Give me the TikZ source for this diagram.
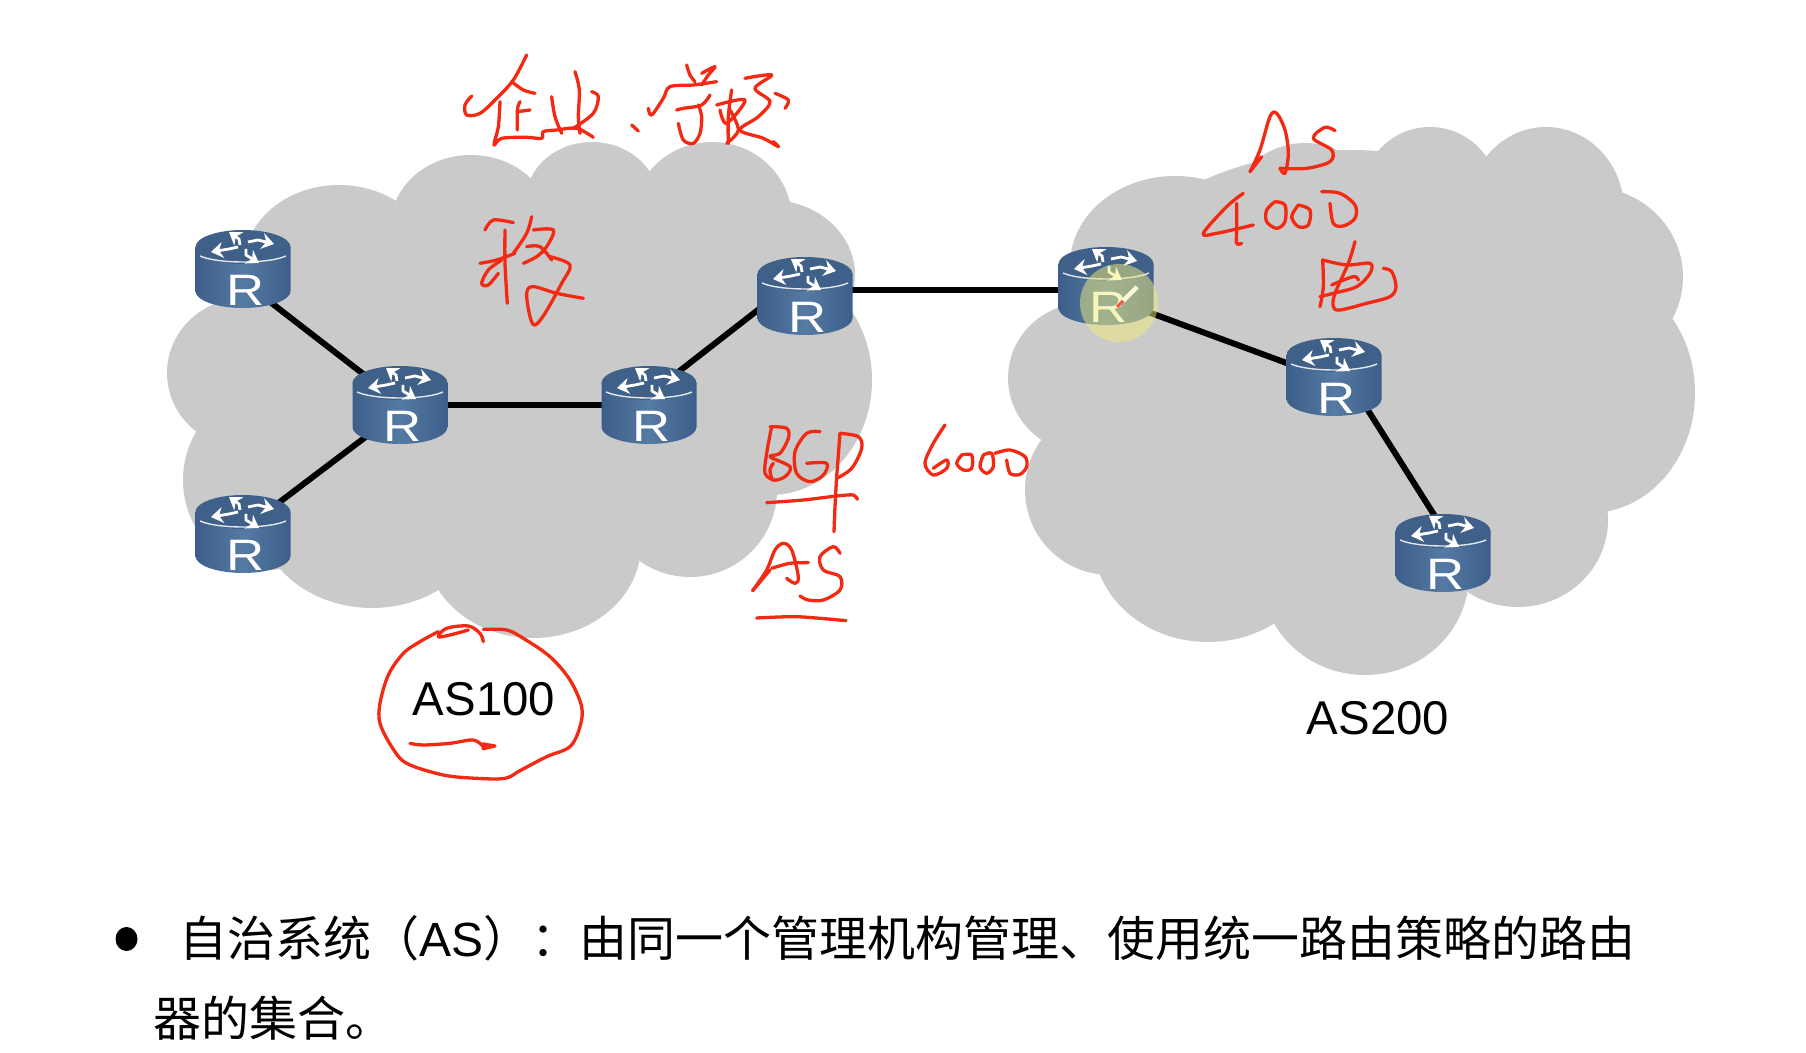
\documentclass[tikz,border=0pt]{standalone}
\usepackage{fontspec}
\usetikzlibrary{arrows.meta}
\setmainfont{Liberation Sans}
\newfontfamily\cjkfont{Noto Sans CJK SC}
\definecolor{cloudgray}{HTML}{C9CAC9}
\definecolor{routerdark}{HTML}{3D5E8A}
\definecolor{routerlight}{HTML}{557AA3}
\definecolor{routertop}{HTML}{3F6088}
\definecolor{inkred}{HTML}{F22A14}
\definecolor{hilite}{HTML}{F2EC7C}
\tikzset{
  cloudlobe/.style={fill=cloudgray,draw=none},
  link/.style={draw=black,line width=3pt},
  ink/.style={draw=inkred,line width=1.65pt,line cap=round,line join=round},
  aslabel/.style={font=\fontsize{23.7}{28}\selectfont,text=black,inner sep=0pt},
  bodytext/.style={font=\fontsize{24}{28}\selectfont\cjkfont,text=black,inner sep=0pt,anchor=base west},
  routerarrow/.style={draw=white,line width=1.4pt,-{Stealth[length=6pt,width=8pt]}},
  routerpic/.pic={
    \path[left color=routerdark,right color=routerdark,middle color=routerlight]
      (-47.5,-22) -- (-47.5,22) .. controls (-47.5,31.4) and (-26.2,39) .. (0,39)
      .. controls (26.2,39) and (47.5,31.4) .. (47.5,22) -- (47.5,-22) -- cycle;
    \fill[routertop] (0,-22) ellipse [x radius=47.5,y radius=17];
    \draw[white!85!routertop,line width=0.7pt] (-43,-13) .. controls (-25,-5) and (25,-5) .. (43,-13);
    \draw[routerarrow] (-3,-24) -- (-4,-30) -- (-14,-37);
    \draw[routerarrow] (5,-27) -- (15,-29) -- (31,-25);
    \draw[routerarrow] (3,-20) -- (3,-14) -- (16,-6);
    \draw[routerarrow] (-5,-22) -- (-14,-20) -- (-32,-17);
    \node[text=white,inner sep=0pt,xscale=1.2,transform shape,font=\fontsize{22}{26}\selectfont] (-label) at (3,21) {R};
  }
}
\newcommand{\inkline}[1]{\draw[ink] plot[smooth,tension=.55] coordinates {#1};}
\begin{document}
\begin{tikzpicture}[x=0.5pt,y=-0.5pt]
\useasboundingbox (0,0) rectangle (1806,1053);
\fill[white] (0,0) rectangle (1806,1053);

% left cloud
\foreach \cx/\cy/\rx/\ry in {339/265/95/80,471/225/80/70,592/200/66/58,712/220/80/78,770/275/85/75,770/380/102/115,
  690/490/87/87,533/545/108/93,372/510/115/98,268/480/85/90,245/373/78/75,500/380/280/190}
  \fill[cloudlobe] (\cx,\cy) ellipse [x radius=\rx,y radius=\ry];
% right cloud
\foreach \cx/\cy/\rx/\ry in {1175/265/105/89,1305/215/75/72,1430/195/68/68,1546/210/78/83,1590/277/93/90,1590/393/105/120,
  1518/520/90/87,1365/575/104/100,1208/540/115/102,1110/490/85/85,1085/378/77/75,1350/370/290/220}
  \fill[cloudlobe] (\cx,\cy) ellipse [x radius=\rx,y radius=\ry];

% router positions
\coordinate (r1) at (243,269);
\coordinate (r2) at (400,405);
\coordinate (r3) at (649,405);
\coordinate (r4) at (805,296);
\coordinate (r5) at (243,534);
\coordinate (r6) at (1106,286);
\coordinate (r7) at (1334,377);
\coordinate (r8) at (1443,553);
% connector ends, hidden under the routers
\coordinate (r1a) at (243,281);
\coordinate (r2a) at (393,397);
\coordinate (r2b) at (400,411);
\coordinate (r5a) at (244,529);
\coordinate (r3a) at (650,394);
\coordinate (r4a) at (790,285);
\coordinate (r4b) at (805,290);
\coordinate (r6a) at (1106,290);
\coordinate (r6b) at (1110,298);
\coordinate (r7a) at (1330,379);
\coordinate (r7b) at (1345,374);
\coordinate (r8a) at (1450,540);

% connectors
\draw[link] (r1a) -- (r2a);
\draw[link] (r5a) -- (r2b);
\draw[link] (r2) -- (r3);
\draw[link] (r3a) -- (r4a);
\draw[link] (r4b) -- (r6a);
\draw[link] (r6b) -- (r7a);
\draw[link] (r7b) -- (r8a);

% routers
\pic (p1) at (r1) {routerpic};
\pic (p2) at (r2) {routerpic};
\pic (p3) at (r3) {routerpic};
\pic (p4) at (r4) {routerpic};
\pic (p5) at (r5) {routerpic};
\pic (p6) at (r6) {routerpic};
\pic (p7) at (r7) {routerpic};
\pic (p8) at (r8) {routerpic};

% pointer highlight and pen
\fill[hilite,opacity=.5] (1119,303) circle [radius=39];
\draw[white!70!hilite,line width=2.2pt] (1123,301) -- (1137,287);
\draw[inkred!80!white,line width=1.5pt] (1117,307) -- (1123,301);

% labels
\node[aslabel] (as100) at (484,699) {AS100};
\node[aslabel] (as200) at (1378,718) {AS200};

% bullet text
\fill[black] (126.5,939) ellipse [x radius=11,y radius=12];
\node[bodytext] (line1a) at (179,956) {自治系统（{\fontspec{Liberation Sans}AS}）：};
\node[bodytext] (line1b) at (579,956) {由同一个管理机构管理、使用统一路由策略的路由};
\node[bodytext] (line2) at (153,1036) {器的集合。};

% handwriting: top
\begin{scope}[shift={(430,30)},xscale=1/3,yscale=1/3]
\inkline{(125,198)(105,225)(110,255)(150,250)(200,205)(250,150)(290,75)}
\inkline{(245,155)(280,180)(315,190)}
\inkline{(262,300)(262,240)(270,215)}
\inkline{(262,245)(300,240)}
\inkline{(210,215)(205,290)(192,345)(215,325)(290,322)(335,325)(340,305)(380,300)(440,295)(490,322)}
\inkline{(365,200)(375,260)(395,310)}
\inkline{(435,125)(448,180)(445,260)(450,310)}
\inkline{(485,185)(505,200)(490,250)(430,295)}
\inkline{(605,285)(625,303)}
\inkline{(770,105)(780,135)(795,155)}
\inkline{(815,130)(855,110)(835,135)(815,165)}
\inkline{(655,235)(665,255)(700,205)(720,170)(790,165)(860,155)}
\inkline{(740,240)(760,235)(815,225)(840,195)}
\inkline{(745,280)(760,330)(790,340)(810,310)(815,260)(805,225)}
\inkline{(905,180)(895,260)(895,340)}
\inkline{(860,225)(945,210)(890,280)(870,240)}
\inkline{(900,240)(925,300)(890,340)}
\inkline{(945,145)(1025,135)(975,175)(1020,215)(985,260)(930,300)(1000,325)(1045,350)(1030,335)}
\inkline{(1035,190)(1075,210)(1065,235)}
% second word
\inkline{(165,600)(190,570)(250,578)}
\inkline{(225,600)(225,700)(232,820)}
\inkline{(150,700)(200,690)(255,670)}
\inkline{(215,690)(175,720)(155,760)(175,765)(205,730)}
\inkline{(305,560)(290,610)(250,670)}
\inkline{(310,600)(370,600)(350,650)(320,680)(280,700)}
\inkline{(290,650)(330,650)(365,690)}
\inkline{(360,680)(420,705)(395,760)(345,850)(315,885)(300,860)(290,790)(310,770)(380,790)(460,805)}
\end{scope}

% handwriting: BGP, AS, 6000
\begin{scope}[shift={(720,380)},xscale=1/3,yscale=1/3]
\inkline{(155,140)(140,220)(135,280)(160,300)}
\inkline{(150,140)(200,145)(205,175)(180,220)(150,230)(210,260)(195,290)(160,300)(150,270)(160,250)}
\inkline{(300,155)(260,160)(225,215)(230,280)(270,305)(310,285)(320,250)(260,250)}
\inkline{(360,160)(350,290)}
\inkline{(360,160)(415,170)(425,205)(395,265)(350,295)}
\inkline{(140,368)(250,360)(350,348)(400,345)(412,358)}
\inkline{(350,290)(345,380)(342,455)}
\inkline{(98,632)(140,570)(165,510)(190,490)(215,510)(235,590)(225,610)(200,595)}
\inkline{(98,632)(150,570)}
\inkline{(155,565)(210,550)(265,548)}
\inkline{(360,520)(340,500)(300,530)(310,570)(360,590)(360,630)(310,660)(265,660)(240,648)}
\inkline{(110,714)(220,710)(300,715)(378,722)}
\inkline{(675,135)(640,190)(615,250)(640,285)(680,265)(680,240)(640,265)}
\inkline{(725,225)(710,250)(730,270)(755,265)(755,225)(725,225)}
\inkline{(790,225)(780,260)(800,280)(820,260)(815,220)(790,225)}
\inkline{(825,220)(870,210)(915,230)(920,260)(900,283)(870,280)(860,240)}
\end{scope}

% handwriting: AS 4000 and character
\begin{scope}[shift={(1040,90)},xscale=1/3,yscale=1/3]
\inkline{(630,245)(660,180)(690,80)(710,70)(735,120)(745,190)(735,250)(720,235)}
\inkline{(630,245)(665,200)}
\inkline{(885,122)(855,112)(820,145)(875,180)(870,215)(800,235)(720,235)}
\inkline{(610,310)(560,350)(490,430)(530,430)(640,405)}
\inkline{(590,340)(590,420)(590,460)(605,460)}
\inkline{(705,335)(680,360)(680,395)(710,415)(735,395)(735,345)(705,335)}
\inkline{(775,345)(755,380)(775,410)(805,405)(810,360)(775,345)}
\inkline{(845,305)(900,310)(945,345)(945,385)(910,408)(880,400)(870,340)}
\inkline{(945,455)(925,520)(885,610)(880,650)(900,660)(980,640)(1050,620)(1068,590)(1055,545)(1030,535)}
\inkline{(848,510)(850,590)(840,650)}
\inkline{(848,510)(920,525)(990,520)(990,550)(950,590)(880,610)(840,620)}
\inkline{(875,585)(940,560)(955,570)}
\end{scope}

% handwriting: AS100 circle
\begin{scope}[shift={(350,600)},xscale=1/3,yscale=1/3]
\inkline{(400,125)(390,100)(355,78)(290,85)(265,110)(300,105)(355,90)}
\inkline{(265,95)(210,125)(160,160)(115,225)(90,310)(90,370)(125,440)(170,490)(280,525)(380,535)(465,535)(510,512)(590,470)(660,440)(690,380)(695,320)(660,240)(600,170)(520,115)(470,90)(400,88)}
\inkline{(180,430)(220,435)(300,430)(370,420)(400,440)}
\draw[ink,fill=inkred] (400,432) -- (435,438) -- (400,446) -- cycle;
\end{scope}
\end{tikzpicture}
\end{document}
